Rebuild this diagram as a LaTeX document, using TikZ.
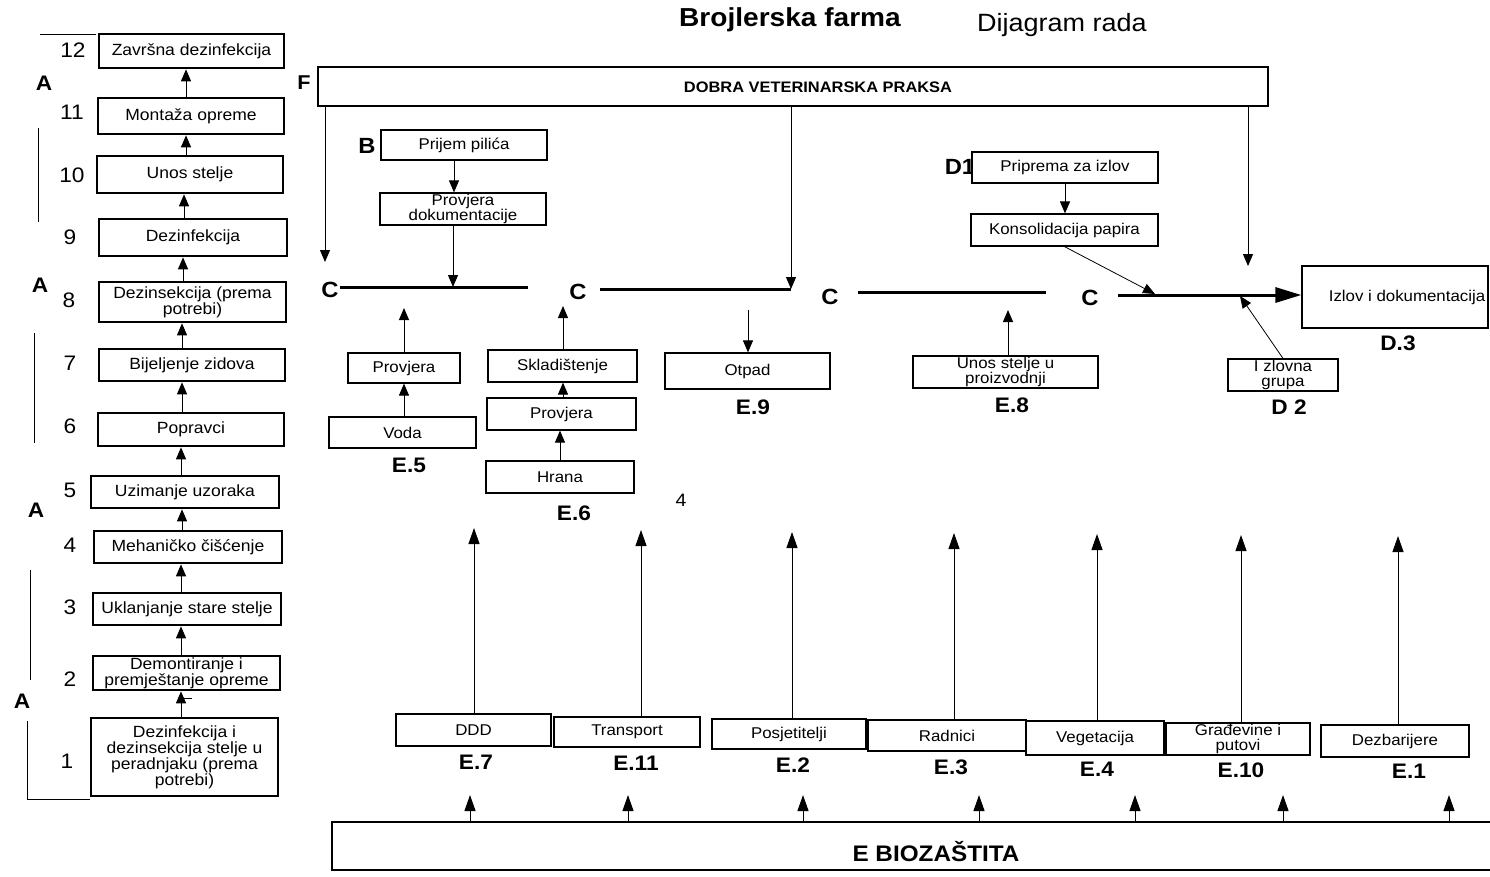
\documentclass[tikz,border=0pt]{standalone}
\usepackage{fontspec}
\setmainfont{Liberation Sans}[FakeStretch=1.08]
\usetikzlibrary{arrows.meta}
\begin{document}
\begin{tikzpicture}[x=1pt,y=-1pt,
  wh/.style 2 args={minimum width=#1pt, minimum height=#2pt},
  lbox/.style={draw, line width=2.6pt, fill=white, align=center, inner sep=0pt, font=\fontsize{16.2}{15}\selectfont},
  mbox/.style={draw, line width=1.2pt, fill=white, align=center, inner sep=0pt, font=\fontsize{15.6}{14}\selectfont},
  num/.style={font=\fontsize{21}{21}\selectfont},
  big/.style={font=\bfseries\fontsize{22}{22}\selectfont},
  elab/.style={font=\bfseries\fontsize{21}{21}\selectfont},
  arr/.style={-{Triangle[length=12pt,width=10pt]}, line width=1pt},
  barr/.style={-{Triangle[length=16pt,width=11pt]}, line width=1pt},
  cline/.style={line width=3pt},
  grp/.style={line width=1pt}]
\useasboundingbox[fill=white] (0,0) rectangle (1490,876);

% titles
\node[font=\bfseries\fontsize{26}{26}\selectfont] (title) at (790,20) {Brojlerska farma};
\node[font=\fontsize{25}{25}\selectfont] (sub) at (1062,25) {Dijagram rada};

% left column
\node[lbox,wh={185}{34}] (b12) at (191.5,51) {Završna dezinfekcija};
\node[lbox,wh={186}{36}] (b11) at (191,116) {Montaža opreme};
\node[lbox,wh={186}{37}] (b10) at (190,174.5) {Unos stelje};
\node[lbox,wh={188}{37}] (b9) at (193,237.5) {Dezinfekcija};
\node[lbox,wh={187}{40}] (b8) at (192.5,302) {Dezinsekcija (prema\\potrebi)};
\node[lbox,wh={186}{32}] (b7) at (192,365) {Bijeljenje zidova};
\node[lbox,wh={186}{33}] (b6) at (191,429.5) {Popravci};
\node[lbox,wh={188}{32}] (b5) at (185,492) {Uzimanje uzoraka};
\node[lbox,wh={188}{32}] (b4) at (188,547) {Mehaničko čišćenje};
\node[lbox,wh={188}{32}] (b3) at (187,609) {Uklanjanje stare stelje};
\node[lbox,wh={187}{34},font=\fontsize{16.2}{13}\selectfont] (b2) at (186.5,673) {Demontiranje i\\premještanje opreme};
\node[lbox,wh={187}{78},font=\fontsize{16.2}{16}\selectfont] (b1) at (184.5,757) {Dezinfekcija i\\dezinsekcija stelje u\\peradnjaku (prema\\potrebi)};

\foreach \lo/\hi/\ax in {b1/b2/181,b2/b3/181,b3/b4/181,b4/b5/182,b5/b6/181,b6/b7/182,b7/b8/182,b8/b9/183,b9/b10/184,b10/b11/186,b11/b12/186}{
  \coordinate (ax) at (\ax,0);
  \draw[arr] (\lo.north -| ax) -- (\hi.south -| ax);
}
\draw[line width=0.8pt] (180,698) -- (192,698);

\foreach \t/\px/\py in {12/73/50,11/72/112,10/72/175,9/70/237,8/69/300,7/70/363,6/70/426,5/70/490,4/70/545,3/70/607,2/70/679,1/67/761}{
  \node[num] (n\t) at (\px,\py) {\t};
}
\node[big,font=\bfseries\fontsize{21}{21}\selectfont] (A1) at (44,83) {A};
\node[big,font=\bfseries\fontsize{21}{21}\selectfont] (A2) at (40,285) {A};
\node[big,font=\bfseries\fontsize{21}{21}\selectfont] (A3) at (36,510) {A};
\node[big,font=\bfseries\fontsize{21}{21}\selectfont] (A4) at (22,701) {A};
\draw[grp] (40,34) -- (96,34);
\draw[grp] (38,128) -- (38,222);
\draw[grp] (34,333) -- (34,443);
\draw[grp] (30,570) -- (30,680);
\draw[grp] (27,721) -- (27,799) -- (90,799);

% F box
\node[big,font=\bfseries\fontsize{20}{20}\selectfont] (Fl) at (304,83) {F};
\node[draw, line width=1.2pt, wh={950}{39}] (F) at (793,86.5) {};
\node[font=\bfseries\fontsize{15.2}{14}\selectfont] (Ft) at (818,87) {DOBRA VETERINARSKA PRAKSA};

% B chain
\node[big] (B) at (367,146) {B};
\node[mbox,wh={166}{30}] (prijem) at (464,145) {Prijem pilića};
\node[mbox,wh={166}{32}] (provdok) at (463,209) {Provjera\\dokumentacije};
\coordinate (pa) at (454,0);
\draw[arr] (prijem.south -| pa) -- (provdok.north -| pa);

% C lines
\node[big] (C1) at (330,290) {C};
\coordinate (c1a) at (340,287);
\coordinate (c1b) at (528,287);
\draw[cline] (c1a) -- (c1b);
\coordinate (c1m) at (453,287);
\draw[arr] (provdok.south -| c1m) -- (c1m);

\node[big] (C2) at (578,292) {C};
\coordinate (c2a) at (600,289);
\coordinate (c2e) at (791,289);
\draw[cline] (c2a) -- (c2e);

\node[big] (C3) at (830,297) {C};
\coordinate (c3a) at (858,292);
\coordinate (c3b) at (1046,292);
\draw[cline] (c3a) -- (c3b);

\node[mbox,wh={186}{62},line width=1.2pt] (izlov) at (1395,297) {\hspace*{24pt}Izlov i dokumentacija};
\node[big] (C4) at (1090,298) {C};
\coordinate (c4a) at (1118,295);
\draw[cline,-{Triangle[length=26pt,width=15pt]}] (c4a) -- (c4a -| izlov.west);
\node[elab] (D3) at (1398,343) {D.3};

% F arrows
\coordinate (fl) at (325,262);
\draw[arr] (F.south -| fl) -- (fl);
\draw[arr] (F.south -| c2e) -- (c2e);
\coordinate (fr) at (1248,266);
\draw[arr] (F.south -| fr) -- (fr);

% D chain
\node[big] (D1) at (960,167) {D1};
\node[mbox,wh={186}{31}] (priprema) at (1065,167.5) {Priprema za izlov};
\node[mbox,wh={187}{32}] (konsol) at (1064.5,230) {Konsolidacija papira};
\draw[arr] (priprema.south) -- (konsol.north -| priprema.south);
\coordinate (k1) at (1155,294);
\draw[arr,line width=0.8pt] (konsol.south) -- (k1);

\node[mbox,wh={110}{32},font=\fontsize{15.6}{15}\selectfont] (grupa) at (1283,375) {I zlovna\\grupa};
\node[elab] (D2) at (1289,407) {D 2};
\coordinate (g1) at (1240,296);
\draw[arr,line width=0.8pt] (grupa.north) -- (g1);

% water
\node[mbox,wh={112}{30}] (prov1) at (404,368) {Provjera};
\node[mbox,wh={147}{31}] (voda) at (402.5,432.5) {Voda};
\node[elab] (E5) at (409,465) {E.5};
\coordinate (w1) at (404,308);
\draw[arr] (prov1.north -| w1) -- (w1);
\draw[arr] (voda.north -| w1) -- (prov1.south -| w1);

% food
\node[mbox,wh={149}{32}] (sklad) at (562.5,366) {Skladištenje};
\node[mbox,wh={149}{32}] (prov2) at (561.5,414) {Provjera};
\node[mbox,wh={148}{32}] (hrana) at (560,477) {Hrana};
\node[elab] (E6) at (574,513) {E.6};
\node[font=\fontsize{18}{18}\selectfont] (four) at (681,500) {4};
\coordinate (f1) at (563,306);
\draw[arr] (sklad.north -| f1) -- (f1);
\draw[arr] (prov2.north -| f1) -- (sklad.south -| f1);
\draw[arr] (hrana.north) -- (hrana.north |- prov2.south);

% waste
\node[mbox,wh={165}{36}] (otpad) at (747.5,371) {Otpad};
\node[elab] (E9) at (753,407) {E.9};
\coordinate (o1) at (748,310);
\draw[arr] (o1) -- (o1 |- otpad.north);

% litter
\node[mbox,wh={185}{32},font=\fontsize{15.6}{14}\selectfont] (unos) at (1005.5,372) {Unos stelje u\\proizvodnji};
\node[elab] (E8) at (1012,405) {E.8};
\coordinate (u1) at (1008,310);
\draw[arr] (unos.north -| u1) -- (u1);

% bottom row
\node[mbox,wh={155}{32}] (ddd) at (473.5,730) {DDD};
\node[mbox,wh={146}{30}] (transport) at (627,732) {Transport};
\node[mbox,wh={154}{30}] (posj) at (789,734) {Posjetitelji};
\node[mbox,wh={158}{31}] (radnici) at (947,735.5) {Radnici};
\node[mbox,wh={138}{34}] (veget) at (1095,738) {Vegetacija};
\node[mbox,wh={144}{32},font=\fontsize{15.6}{15}\selectfont] (grad) at (1238,739) {Građevine i\\putovi};
\node[mbox,wh={148}{32}] (dezb) at (1395,741) {Dezbarijere};

\node[elab] (E7) at (476,762) {E.7};
\node[elab] (E11) at (636,763) {E.11};
\node[elab] (E2) at (793,765) {E.2};
\node[elab] (E3) at (951,767) {E.3};
\node[elab] (E4) at (1097,769) {E.4};
\node[elab] (E10) at (1241,770) {E.10};
\node[elab] (E1) at (1409,771) {E.1};

\foreach \b/\tx/\ty in {ddd/474/528,transport/641/530,posj/792/532,radnici/954/533,veget/1097/534,grad/1241/535,dezb/1398/536}{
  \coordinate (tip) at (\tx,\ty);
  \draw[barr] (\b.north -| tip) -- (tip);
}

% E box
\node[draw, line width=1.5pt, wh={1175}{48}, anchor=north west] (ebox) at (331,821) {};
\node[font=\bfseries\fontsize{22.5}{22}\selectfont] (et) at (936,852) {E BIOZAŠTITA};
\foreach \ex in {470,628,803,979,1135,1283,1449}{
  \coordinate (eu) at (\ex,795);
  \draw[barr] (ebox.north -| eu) -- (eu);
}
\end{tikzpicture}
\end{document}
